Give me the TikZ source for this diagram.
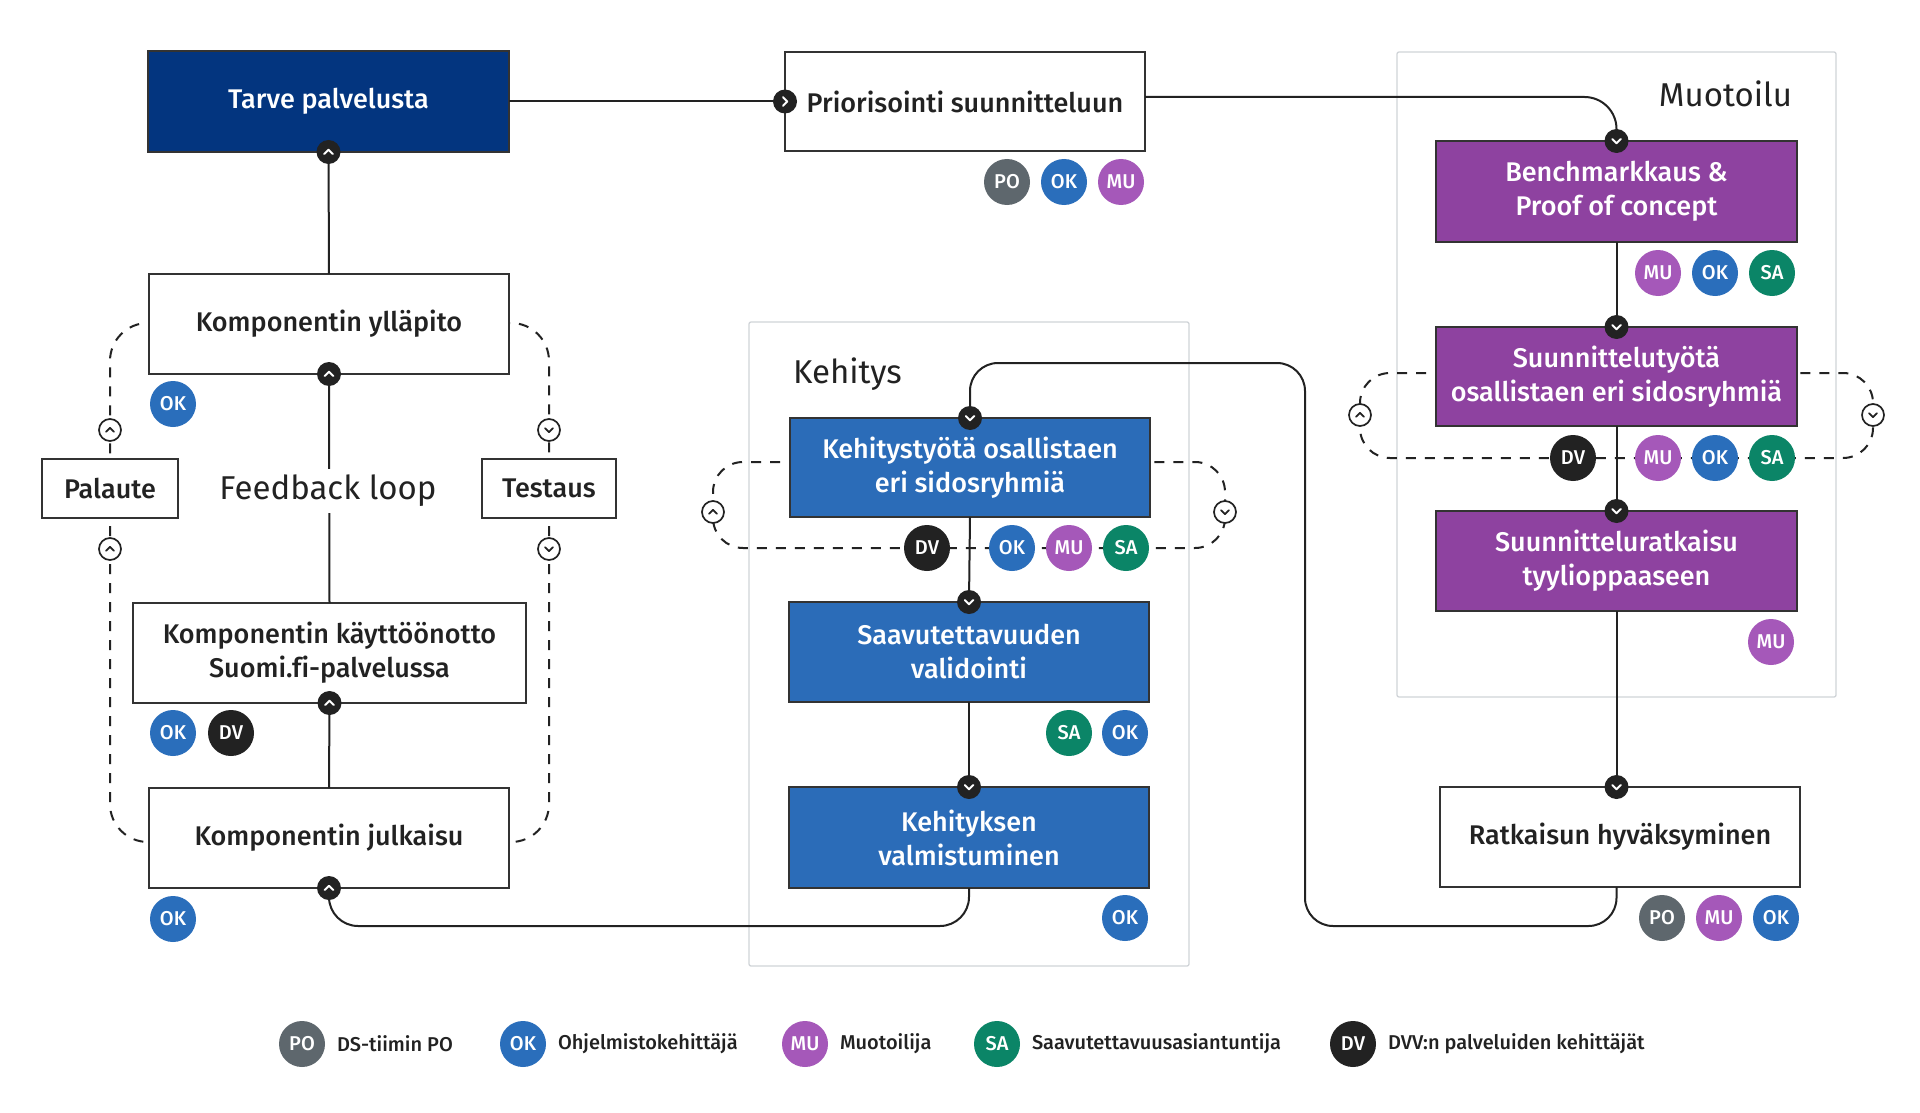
\documentclass[tikz,border=0pt]{standalone}
\usepackage{fontspec}
\setmainfont{Fira Sans}[Ligatures=NoCommon]
\newfontfamily\medfam{Fira Sans Medium}[Ligatures=NoCommon]
\definecolor{navy}{HTML}{03357F}
\definecolor{bluebox}{HTML}{2B6CB8}
\definecolor{okblue}{HTML}{2A6EBB}
\definecolor{purplebox}{HTML}{8E42A0}
\definecolor{mupurple}{HTML}{A558B9}
\definecolor{sagreen}{HTML}{0B8567}
\definecolor{pogray}{HTML}{5E676D}
\definecolor{dvblack}{HTML}{222222}
\definecolor{txt}{HTML}{222222}
\definecolor{boxline}{HTML}{333333}
\definecolor{panelline}{HTML}{D0D4D8}
\newcommand\boxfont{\medfam\fontsize{27}{34}\selectfont}
\newcommand\badgefont{\medfam\fontsize{20}{20}\selectfont}
\newcommand\legfont{\medfam\fontsize{20}{22}\selectfont}
\newcommand\bigfont{\fontsize{33}{38}\selectfont}
\tikzset{
  chevd/.pic={\fill[dvblack] (0,0) circle[radius=12pt];
    \draw[white,line width=2pt,line cap=round,line join=round] (-4.3,-2) -- (0,2.3) -- (4.3,-2);},
  chevu/.pic={\fill[dvblack] (0,0) circle[radius=12pt];
    \draw[white,line width=2pt,line cap=round,line join=round] (-4.3,2) -- (0,-2.3) -- (4.3,2);},
  chevr/.pic={\fill[dvblack] (0,0) circle[radius=12pt];
    \draw[white,line width=2pt,line cap=round,line join=round] (-2,-4.3) -- (2.3,0) -- (-2,4.3);},
  ochevd/.pic={\draw[txt,fill=white,line width=1.7pt] (0,0) circle[radius=11pt];
    \draw[txt,line width=1.8pt,line cap=round,line join=round] (-4,-1.8) -- (0,2.2) -- (4,-1.8);},
  ochevu/.pic={\draw[txt,fill=white,line width=1.7pt] (0,0) circle[radius=11pt];
    \draw[txt,line width=1.8pt,line cap=round,line join=round] (-4,1.8) -- (0,-2.2) -- (4,1.8);},
}
\begin{document}
\begin{tikzpicture}[x=1pt,y=-1pt,
  every node/.style={inner sep=0pt,outer sep=0pt},
  wbox/.style={draw=boxline,line width=1.3pt,fill=white,minimum width=#1,minimum height=100pt,align=center,font=\boxfont,text=txt},
  panel/.style={draw=panelline,line width=1.3pt,rounded corners=2pt,fill=white},
  badge/.style={circle,fill=#1,minimum size=46pt,text=white,font=\badgefont},
  conn/.style={draw=txt,line width=2pt},
  dashline/.style={draw=txt,line width=2pt,dash pattern=on 10pt off 9pt},
  legtext/.style={anchor=west,font=\legfont,text=txt},
  biglabel/.style={font=\bigfont,text=txt},
]
\useasboundingbox (0,0) rectangle (1920,1113);
\fill[white] (0,0) rectangle (1920,1113);

% panels
\node[panel,minimum width=440pt,minimum height=644pt] (kehpanel) at (969,644) {};
\node[panel,minimum width=439pt,minimum height=645pt] (muopanel) at (1616.5,374.5) {};
\node[biglabel,anchor=base west] (kehlabel) at (793,383) {Kehitys};
\node[biglabel,anchor=base east] (muolabel) at (1792,107) {Muotoilu};

% coordinates for connector corners
\coordinate (loopT) at (1305,363);
\coordinate (kl1) at (713,548);
\coordinate (kr1) at (1225,548);
\coordinate (ml1) at (1360,458);
\coordinate (mr1) at (1873,458);

% dashed loops (drawn before boxes)
\draw[dashline,rounded corners=38pt] (329,323) -| (110,488);
\draw[dashline,rounded corners=38pt] (110,488) |- (329,842);
\draw[dashline,rounded corners=38pt] (329,323) -| (549,488);
\draw[dashline,rounded corners=38pt] (549,488) |- (329,842);
\draw[dashline,rounded corners=30pt] (970,462) -| (kl1) -- (kr1) |- (970,462);
\draw[dashline,rounded corners=30pt] (1616,373) -| (ml1) -- (mr1) |- (1616,373);

% boxes
\node[wbox=361pt,minimum height=101pt,fill=navy,text=white] (tarve) at (328.5,101.5) {Tarve palvelusta};
\node[wbox=360pt,minimum height=99pt] (prior) at (965,101.5) {Priorisointi suunnitteluun};
\node[wbox=360pt] (yllapito) at (329,324) {Komponentin ylläpito};
\node[wbox=136pt,minimum height=59pt] (palaute) at (110,488.5) {Palaute};
\node[wbox=134pt,minimum height=59pt] (testaus) at (549,488.5) {Testaus};
\node[wbox=393pt] (kaytto) at (329.5,653) {Komponentin käyttöönotto\\Suomi.fi-palvelussa};
\node[wbox=360pt] (julkaisu) at (329,838) {Komponentin julkaisu};

\node[wbox=360pt,minimum height=99pt,fill=bluebox,text=white] (kehtyo) at (970,467.5) {Kehitystyötä osallistaen\\eri sidosryhmiä};
\node[wbox=360pt,fill=bluebox,text=white] (saav) at (969,652) {Saavutettavuuden\\validointi};
\node[wbox=360pt,minimum height=101pt,fill=bluebox,text=white] (valm) at (969,837.5) {Kehityksen\\valmistuminen};

\node[wbox=361pt,minimum height=101pt,fill=purplebox,text=white] (bench) at (1616.5,191.5) {Benchmarkkaus \&\\Proof of concept};
\node[wbox=361pt,minimum height=99pt,fill=purplebox,text=white] (suunn) at (1616.5,376.5) {Suunnittelutyötä\\osallistaen eri sidosryhmiä};
\node[wbox=361pt,fill=purplebox,text=white] (ratk) at (1616.5,561) {Suunnitteluratkaisu\\tyylioppaaseen};
\node[wbox=360pt] (hyvaks) at (1620,837) {Ratkaisun hyväksyminen};

% solid connectors
\draw[conn] (tarve.east |- prior.west) -- (prior.west);
\draw[conn,rounded corners=32pt] ([yshift=4.5pt]prior.east) -| (bench.north);
\draw[conn] (bench.south) -- (suunn.north);
\draw[conn] (suunn.south) -- (ratk.north);
\draw[conn] (ratk.south) -- (ratk.south |- hyvaks.north);
\draw[conn,rounded corners=28pt] (ratk.south |- hyvaks.south) -- ++(0,39) -| (loopT) -| (kehtyo.north);
\draw[conn] (kehtyo.south) -- (saav.north);
\draw[conn] (saav.south) -- (valm.north);
\draw[conn,rounded corners=29pt] (valm.south) -- ++(0,38) -| (julkaisu.south);
\draw[conn] (julkaisu.north) -- (kaytto.south);
\draw[conn] (kaytto.north) -- (yllapito.south);
\draw[conn] (yllapito.north) -- (tarve.south);

\node[biglabel,fill=white,inner xsep=6pt,inner ysep=6pt] (feedback) at (328,491) {Feedback loop};

% chevrons
\path (prior.west) pic{chevr};
\path (bench.north) pic{chevd};
\path (suunn.north) pic{chevd};
\path (ratk.north) pic{chevd};
\path (ratk.south |- hyvaks.north) pic{chevd};
\path (kehtyo.north) pic{chevd};
\path (saav.north) pic{chevd};
\path (valm.north) pic{chevd};
\path (julkaisu.south) pic{chevu};
\path (kaytto.south) pic{chevu};
\path (yllapito.south) pic{chevu};
\path (tarve.south) pic{chevu};

\path (110,430) pic{ochevu};
\path (110,549) pic{ochevu};
\path (549,430) pic{ochevd};
\path (549,549) pic{ochevd};
\path (713,512) pic{ochevu};
\path (1225,512) pic{ochevd};
\path (1360,415) pic{ochevu};
\path (1873,415) pic{ochevd};

% badges
\node[badge=pogray] (p1) at (1007,182) {PO};
\node[badge=okblue] (p2) at (1064,182) {OK};
\node[badge=mupurple] (p3) at (1121,182) {MU};
\node[badge=okblue] (y1) at (173,404) {OK};
\node[badge=okblue] (k1) at (173,733) {OK};
\node[badge=dvblack] (k2) at (231,733) {DV};
\node[badge=okblue] (j1) at (173,919) {OK};
\node[badge=dvblack] (e1) at (927,548) {DV};
\node[badge=okblue] (e2) at (1012,548) {OK};
\node[badge=mupurple] (e3) at (1069,548) {MU};
\node[badge=sagreen] (e4) at (1126,548) {SA};
\node[badge=sagreen] (s1) at (1069,733) {SA};
\node[badge=okblue] (s2) at (1125,733) {OK};
\node[badge=okblue] (v1) at (1125,918) {OK};
\node[badge=mupurple] (b1) at (1658,273) {MU};
\node[badge=okblue] (b2) at (1715,273) {OK};
\node[badge=sagreen] (b3) at (1772,273) {SA};
\node[badge=dvblack] (u1) at (1573,458) {DV};
\node[badge=mupurple] (u2) at (1658,458) {MU};
\node[badge=okblue] (u3) at (1715,458) {OK};
\node[badge=sagreen] (u4) at (1772,458) {SA};
\node[badge=mupurple] (r1) at (1771,642) {MU};
\node[badge=pogray] (h1) at (1662,918) {PO};
\node[badge=mupurple] (h2) at (1719,918) {MU};
\node[badge=okblue] (h3) at (1776,918) {OK};

% legend
\node[badge=pogray] (lg1) at (302,1044) {PO};
\node[legtext] (lt1) at (337,1044) {DS-tiimin PO};
\node[badge=okblue] (lg2) at (523,1044) {OK};
\node[legtext] (lt2) at (558,1044) {Ohjelmistokehittäjä};
\node[badge=mupurple] (lg3) at (805,1044) {MU};
\node[legtext] (lt3) at (840,1044) {Muotoilija};
\node[badge=sagreen] (lg4) at (997,1044) {SA};
\node[legtext] (lt4) at (1032,1044) {Saavutettavuusasiantuntija};
\node[badge=dvblack] (lg5) at (1353,1044) {DV};
\node[legtext] (lt5) at (1388,1044) {DVV:n palveluiden kehittäjät};
\end{tikzpicture}
\end{document}
